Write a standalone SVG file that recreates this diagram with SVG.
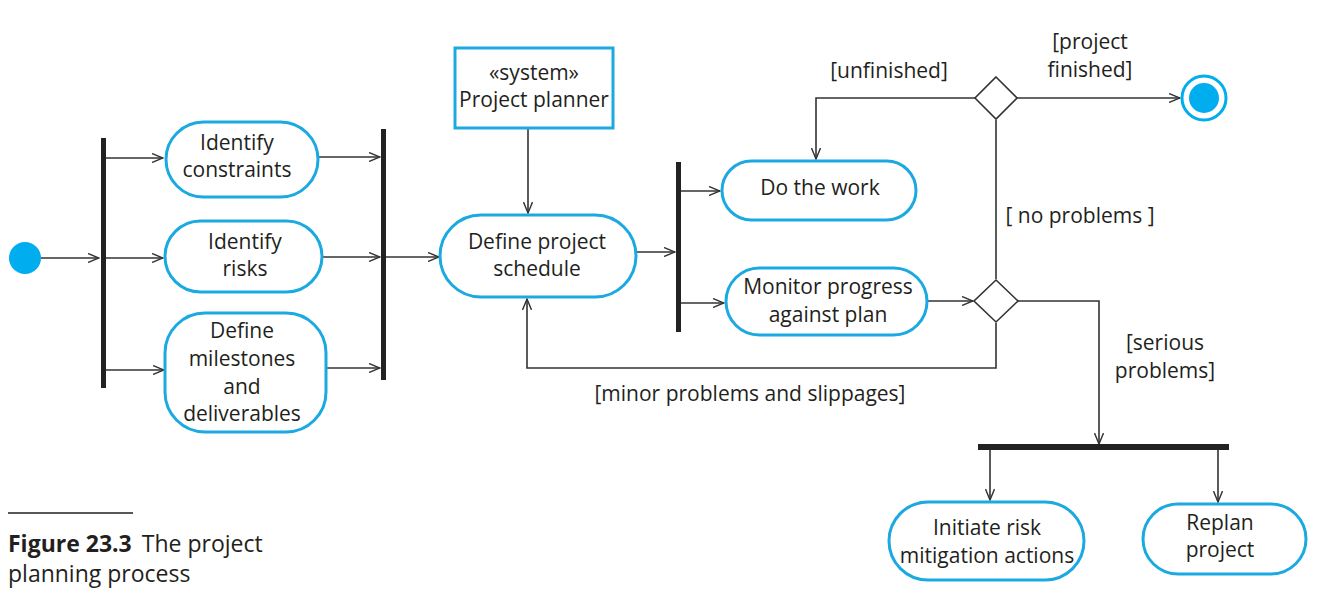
<svg xmlns="http://www.w3.org/2000/svg" width="1317" height="602" viewBox="0 0 1317 602">
<defs>
<marker id="arr" markerWidth="12" markerHeight="10" refX="11" refY="5" orient="auto" markerUnits="userSpaceOnUse">
<path d="M0,0.5 L11,5 L0,9.5" fill="none" stroke="#333" stroke-width="1.4"/>
</marker>
</defs>
<style>
.act{fill:#fff;stroke:#1ba9e1;stroke-width:3}
.bar{fill:#222}
.t{font-family:"Open Sans","Liberation Sans",sans-serif;font-size:21px;fill:#231f20;text-anchor:middle}
.l{font-family:"Open Sans","Liberation Sans",sans-serif;font-size:21px;fill:#231f20;text-anchor:middle}
.c{fill:none;stroke:#333;stroke-width:1.6}
.dia{fill:#fff;stroke:#333;stroke-width:1.6}
</style>
<rect width="1317" height="602" fill="#fff"/>

<g id="connectors">
<path class="c" d="M41,258 H99" marker-end="url(#arr)"/>
<path class="c" d="M106,158 H163" marker-end="url(#arr)"/>
<path class="c" d="M106,258 H163" marker-end="url(#arr)"/>
<path class="c" d="M106,370 H164" marker-end="url(#arr)"/>
<path class="c" d="M319,157 H380" marker-end="url(#arr)"/>
<path class="c" d="M323,257 H380" marker-end="url(#arr)"/>
<path class="c" d="M326,368 H380" marker-end="url(#arr)"/>
<path class="c" d="M386,257 H439" marker-end="url(#arr)"/>
<path class="c" d="M528,128 V213" marker-end="url(#arr)"/>
<path class="c" d="M637,252 H675" marker-end="url(#arr)"/>
<path class="c" d="M681,191 H720" marker-end="url(#arr)"/>
<path class="c" d="M681,303 H724" marker-end="url(#arr)"/>
<path class="c" d="M928,301 H973" marker-end="url(#arr)"/>
<path class="c" d="M975,98 H816 V159" marker-end="url(#arr)"/>
<path class="c" d="M1017,98 H1180" marker-end="url(#arr)"/>
<path class="c" d="M996,120 V279"/>
<path class="c" d="M1018,301 H1099 V444" marker-end="url(#arr)"/>
<path class="c" d="M996,323 V368 H527 V299" marker-end="url(#arr)"/>
<path class="c" d="M990,449 V500" marker-end="url(#arr)"/>
<path class="c" d="M1218,449 V502" marker-end="url(#arr)"/>
</g>

<g id="labels">
<text class="l" x="889" y="78">[unfinished]</text>
<text class="l" x="1090" y="49">[project</text>
<text class="l" x="1090" y="77">finished]</text>
<text class="l" x="1080" y="223">[ no problems ]</text>
<text class="l" x="1165" y="350">[serious</text>
<text class="l" x="1165" y="378">problems]</text>
<text class="l" x="750" y="401">[minor problems and slippages]</text>
</g>

<g id="start"><circle cx="25" cy="258" r="16" fill="#00aeef"/></g>
<g id="fork1"><rect class="bar" x="101" y="138" width="5" height="250"/></g>
<g id="join1"><rect class="bar" x="381" y="129" width="5" height="251"/></g>
<g id="fork2"><rect class="bar" x="676" y="162" width="5" height="170"/></g>
<g id="fork3"><rect class="bar" x="978" y="444" width="251" height="6"/></g>

<g id="identify-constraints">
<rect class="act" x="166" y="122" width="152" height="75" rx="37.5"/>
<text class="t" x="237" y="150">Identify</text>
<text class="t" x="237" y="177">constraints</text>
</g>
<g id="identify-risks">
<rect class="act" x="165" y="221" width="157" height="71" rx="35.5"/>
<text class="t" x="245" y="249">Identify</text>
<text class="t" x="245" y="276">risks</text>
</g>
<g id="define-milestones">
<rect class="act" x="165" y="313" width="161" height="119" rx="40"/>
<text class="t" x="242" y="338">Define</text>
<text class="t" x="242" y="366">milestones</text>
<text class="t" x="242" y="394">and</text>
<text class="t" x="242" y="421">deliverables</text>
</g>
<g id="project-planner">
<rect x="455" y="48" width="158" height="80" fill="#fff" stroke="#1ba9e1" stroke-width="3"/>
<text class="t" x="534" y="80">«system»</text>
<text class="t" x="534" y="107">Project planner</text>
</g>
<g id="define-schedule">
<rect class="act" x="440" y="215" width="196" height="82" rx="41"/>
<text class="t" x="537" y="249">Define project</text>
<text class="t" x="537" y="276">schedule</text>
</g>
<g id="do-work">
<rect class="act" x="722" y="161" width="194" height="59" rx="29.5"/>
<text class="t" x="820" y="195">Do the work</text>
</g>
<g id="monitor">
<rect class="act" x="726" y="268" width="201" height="67" rx="33.5"/>
<text class="t" x="828" y="294">Monitor progress</text>
<text class="t" x="828" y="322">against plan</text>
</g>
<g id="decision1"><path class="dia" d="M996,77 L1017,98 L996,119 L975,98 Z"/></g>
<g id="decision2"><path class="dia" d="M996,280 L1018,301 L996,322 L974,301 Z"/></g>
<g id="end">
<circle cx="1204" cy="98" r="22" fill="#fff" stroke="#00aeef" stroke-width="3"/>
<circle cx="1204" cy="98" r="15" fill="#00aeef"/>
</g>
<g id="initiate">
<rect class="act" x="889" y="502" width="195" height="78" rx="39"/>
<text class="t" x="987" y="535">Initiate risk</text>
<text class="t" x="987" y="563">mitigation actions</text>
</g>
<g id="replan">
<rect class="act" x="1143" y="504" width="163" height="70" rx="35"/>
<text class="t" x="1220" y="530">Replan</text>
<text class="t" x="1220" y="557">project</text>
</g>

<g id="caption">
<line x1="8" y1="513" x2="133" y2="513" stroke="#231f20" stroke-width="1.5"/>
<text x="8" y="552" font-family="'Open Sans','Liberation Sans',sans-serif" font-size="23" fill="#231f20"><tspan font-weight="bold">Figure 23.3</tspan><tspan dx="10">The project</tspan></text>
<text x="8" y="582" font-family="'Open Sans','Liberation Sans',sans-serif" font-size="23" fill="#231f20">planning process</text>
</g>
</svg>
